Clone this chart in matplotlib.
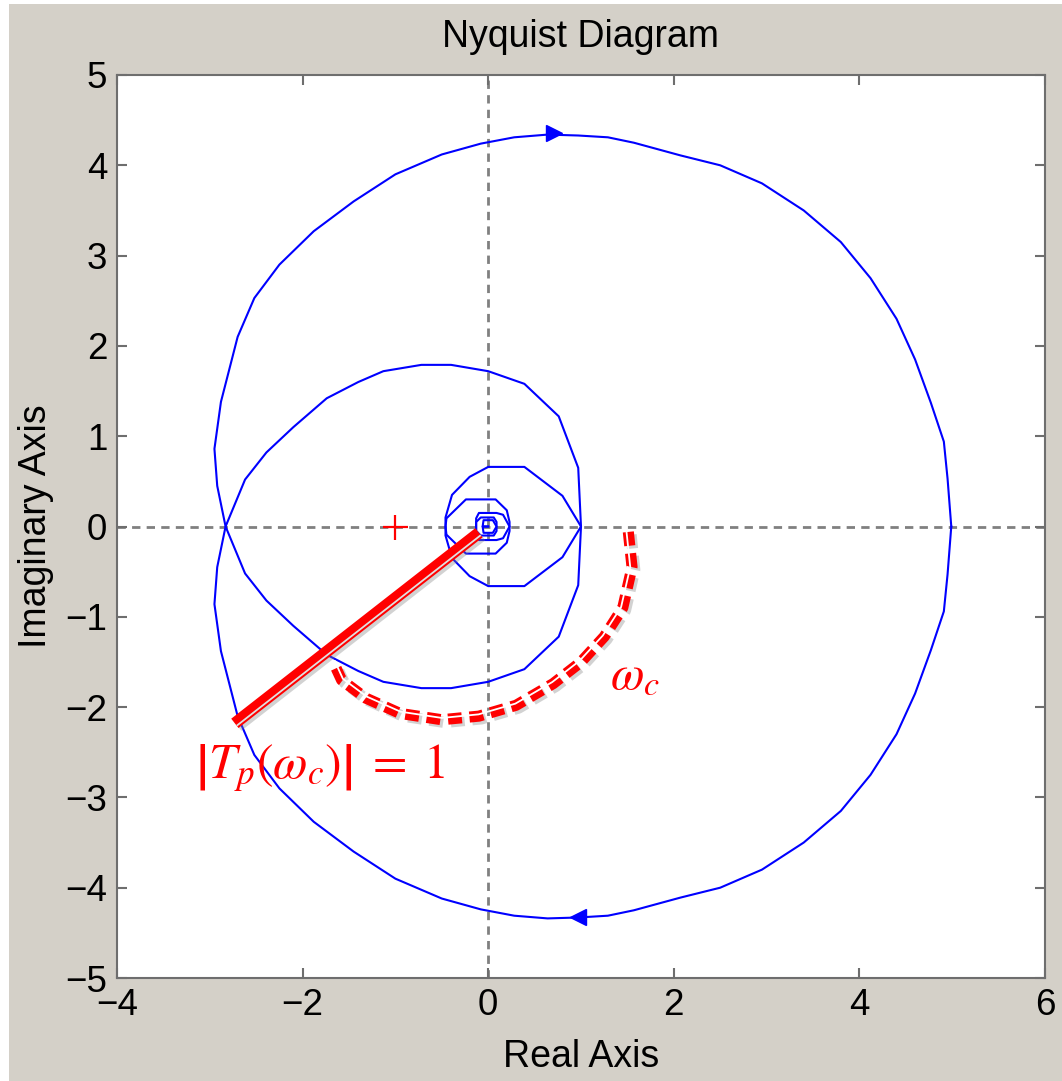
import numpy as np
import matplotlib
matplotlib.use("Agg")
import matplotlib.pyplot as plt
import matplotlib.patheffects as pe

# positive-frequency branch of the Nyquist curve
re_pos = [4.99, 4.95, 4.91, 4.77, 4.60, 4.40, 4.12, 3.80, 3.40, 2.95, 2.50, 2.07, 1.57, 1.29,
          0.97, 0.64, 0.28, -0.08, -0.50, -1.00, -1.45, -1.88, -2.25, -2.52, -2.70,
          -2.88, -2.95, -2.92, -2.83,
          -2.62, -2.39, -2.10, -1.74, -1.40, -1.13, -0.72, -0.40, 0.00, 0.39, 0.76,
          0.97, 1.00,
          0.80, 0.39, 0.00, -0.20, -0.39, -0.46, -0.46,
          -0.45, -0.24, 0.08, 0.20, 0.23, 0.23,
          0.16, 0.09, -0.10, -0.13, -0.13,
          -0.13, -0.08, 0.06, 0.09, 0.09,
          0.05, -0.05, -0.06, 0.00]
im_pos = [0.00, -0.53, -0.94, -1.37, -1.85, -2.30, -2.75, -3.15, -3.50, -3.80, -4.00, -4.11,
          -4.25, -4.31,
          -4.33, -4.34, -4.31, -4.24, -4.12, -3.90, -3.60, -3.27, -2.90, -2.53, -2.10,
          -1.38, -0.86, -0.45, 0.00,
          0.52, 0.82, 1.10, 1.42, 1.60, 1.72, 1.79, 1.79, 1.72, 1.58, 1.22,
          0.65, 0.00,
          -0.34, -0.66, -0.66, -0.55, -0.35, -0.10, 0.00,
          0.09, 0.30, 0.30, 0.18, 0.05, 0.00,
          -0.13, -0.15, -0.15, -0.09, 0.00,
          0.05, 0.10, 0.10, 0.05, 0.00,
          -0.07, -0.07, 0.00, 0.00]

# direction arrows
arrow_re = [0.71, 0.97]
arrow_im = [4.36, -4.32]
arrow_mk = ['>', '<']

# critical point
crit = (-1, 0)

# red annotations
radius_re = [-2.73, -0.10]
radius_im = [-2.18, -0.07]
arc_re = [1.51, 1.55, 1.45, 1.25, 1.00, 0.70, 0.30, -0.10, -0.50, -0.95, -1.32, -1.58, -1.67]
arc_im = [-0.06, -0.45, -0.90, -1.22, -1.50, -1.74, -1.98, -2.10, -2.14, -2.07, -1.90, -1.70, -1.50]

plt.rcParams['font.family'] = ['Liberation Sans', 'DejaVu Sans']
plt.rcParams['mathtext.fontset'] = 'stix'
plt.rcParams['lines.scale_dashes'] = False

bg = '#d4d0c8'
axcol = '#6e6e6e'

fig = plt.figure(figsize=(10.62, 10.81), dpi=100, facecolor='white')
fig.patches.append(plt.Rectangle((9/1062, 0), 1, 1 - 4/1081, transform=fig.transFigure,
                                 facecolor=bg, edgecolor='none', zorder=-10))
ax = fig.add_axes([117/1062, 1 - 978/1081, 928/1062, 903/1081])
ax.set_xlim(-4, 6)
ax.set_ylim(-5, 5)

def offset_xy(x, y, d):
    # shift a polyline sideways by d pixels (positive = left of travel direction)
    pts = ax.transData.transform(np.column_stack([x, y]))
    tang = np.gradient(pts, axis=0)
    tang /= np.linalg.norm(tang, axis=1)[:, None]
    nrm = np.column_stack([-tang[:, 1], tang[:, 0]])
    return ax.transData.inverted().transform(pts + d * nrm).T

# zero lines
ax.axhline(0, color='#808080', lw=2, ls=(0, (6, 4.5)), zorder=1)
ax.axvline(0, color='#808080', lw=2, ls=(0, (6, 4.5)), zorder=1)

# Nyquist curve, both frequency branches
re = np.array(re_pos)
im = np.array(im_pos)
ax.plot(re, im, color='#0000ff', lw=1.5, zorder=3)
ax.plot(re, -im, color='#0000ff', lw=1.5, zorder=3)
for x, y, m in zip(arrow_re, arrow_im, arrow_mk):
    ax.plot(x, y, marker=m, color='#0000ff', ms=11, zorder=4)

ax.plot(*crit, marker='+', color='#ff0000', ms=18, mew=1.6, zorder=4)

shadow = [pe.SimpleLineShadow(offset=(2, -2), shadow_color='gray', alpha=0.35), pe.Normal()]

# |Tp| = 1 radius line: thick red with light stripe
ax.plot(radius_re, radius_im, color='#ff0000', lw=8.5, solid_capstyle='butt',
        zorder=5, path_effects=shadow)
sx, sy = offset_xy(radius_re, radius_im, -3.0)
ax.plot(sx, sy, color='#e0e0e0', lw=1.3, solid_capstyle='butt', zorder=6)

# dashed arc for omega_c
ax.plot(arc_re, arc_im, color='#ff0000', lw=8, dashes=(10, 5.5), dash_capstyle='butt',
        zorder=5, path_effects=shadow)
ax_, ay_ = offset_xy(arc_re, arc_im, -1.8)
ax.plot(ax_, ay_, color='white', lw=1.3, zorder=6)

ax.text(1.58, -1.66, r'$\omega_c$', color='#ff0000', fontsize=35, ha='center', va='center', zorder=7)
ax.text(-1.81, -2.68, r'$\left|T_p(\omega_c)\right|\;=\;1$', color='#ff0000', fontsize=36,
        ha='center', va='center', zorder=7)

ax.set_xticks([-4, -2, 0, 2, 4, 6])
ax.set_yticks(np.arange(-5, 6, 1))
ax.tick_params(direction='in', length=7, width=1.5, color=axcol, top=True, right=True,
               labelsize=26.5, labelcolor='black', pad=7)
for s in ax.spines.values():
    s.set_color(axcol)
    s.set_linewidth(1.5)

ax.set_title('Nyquist Diagram', fontsize=27, pad=20)
ax.set_xlabel('Real Axis', fontsize=27, labelpad=12)
ax.set_ylabel('Imaginary Axis', fontsize=27, labelpad=8)

fig.savefig('out.png', dpi=100, facecolor=fig.get_facecolor())
